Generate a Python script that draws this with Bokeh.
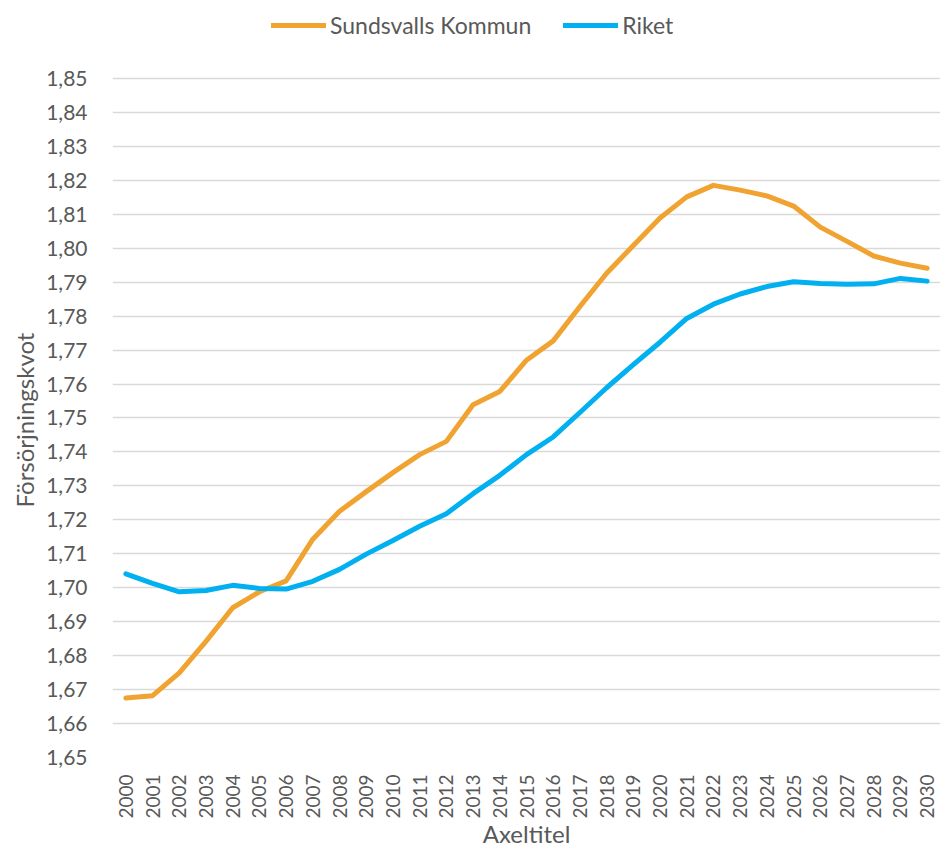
from bokeh.plotting import figure
from bokeh.models import FactorRange, Range1d, FixedTicker, CustomJSTickFormatter, Legend, LegendItem, Title
from bokeh.embed import file_html
from bokeh.resources import INLINE
import math

years = [str(y) for y in range(2000, 2031)]
sundsvall = [1.6675, 1.6682, 1.6749, 1.6842, 1.6941, 1.6988, 1.7020, 1.7143, 1.7225, 1.7283,
             1.7339, 1.7392, 1.7431, 1.7539, 1.7578, 1.7670, 1.7727, 1.7828, 1.7926, 1.8008,
             1.8089, 1.8151, 1.8185, 1.8171, 1.8154, 1.8124, 1.8062, 1.8020, 1.7977, 1.7956, 1.7941]
riket = [1.7041, 1.7013, 1.6988, 1.6992, 1.7007, 1.6998, 1.6996, 1.7019, 1.7054, 1.7099,
         1.7139, 1.7181, 1.7218, 1.7277, 1.7331, 1.7392, 1.7444, 1.7516, 1.7589, 1.7657,
         1.7723, 1.7793, 1.7835, 1.7865, 1.7887, 1.7901, 1.7896, 1.7894, 1.7895, 1.7911, 1.7903]
y_ticks = [round(1.65 + i * 0.01, 2) for i in range(21)]

FONT = "Lato"
GREY = "#595959"

# frame extends above 1.85 to leave room for the legend (no gridline there)
p = figure(frame_width=828, frame_height=747, x_range=FactorRange(*years, range_padding=0),
           y_range=Range1d(1.65, 1.87), output_backend="svg", toolbar_location=None,
           min_border_left=112, min_border_right=0, min_border_top=10, min_border_bottom=0)
p.outline_line_color = None
p.background_fill_color = "white"

r1 = p.line(years, sundsvall, line_color="#F0A330", line_width=5, line_join="round", line_cap="round")
r2 = p.line(years, riket, line_color="#00B0F0", line_width=5, line_join="round", line_cap="round")

p.yaxis.ticker = FixedTicker(ticks=y_ticks)
p.yaxis.formatter = CustomJSTickFormatter(code="return tick.toFixed(2).replace('.', ',');")
p.yaxis.axis_line_color = None
p.yaxis.major_tick_line_color = None
p.yaxis.minor_tick_line_color = None
p.yaxis.major_label_text_font = FONT
p.yaxis.major_label_text_font_size = "21px"
p.yaxis.major_label_text_color = GREY
p.yaxis.major_label_standoff = 19

ytitle = Title(text="Försörjningskvot", align="left", offset=250, standoff=10,
               text_font=FONT, text_font_size="24px", text_font_style="normal",
               text_color=GREY)
p.add_layout(ytitle, "left")

p.xaxis.axis_line_color = None
p.xaxis.major_tick_line_color = None
p.xaxis.minor_tick_line_color = None
p.xaxis.major_label_orientation = math.pi / 2
p.xaxis.major_label_text_font = FONT
p.xaxis.major_label_text_font_size = "19px"
p.xaxis.major_label_text_color = GREY
p.xaxis.major_label_standoff = 11
p.xaxis.axis_label = "Axeltitel"
p.xaxis.axis_label_text_font = FONT
p.xaxis.axis_label_text_font_size = "24px"
p.xaxis.axis_label_text_font_style = "normal"
p.xaxis.axis_label_text_color = GREY
p.xaxis.axis_label_standoff = -3

p.xgrid.grid_line_color = None
p.ygrid.grid_line_color = "#D9D9D9"
p.ygrid.grid_line_width = 1.5

legend = Legend(items=[LegendItem(label="Sundsvalls Kommun", renderers=[r1]),
                       LegendItem(label="Riket", renderers=[r2])],
                orientation="horizontal", location=(159, 718),
                label_text_font=FONT, label_text_font_size="23px", label_text_color=GREY,
                glyph_width=55, glyph_height=24, spacing=32, label_standoff=4,
                border_line_color=None, background_fill_alpha=0, margin=0, padding=0)
p.add_layout(legend, "center")

open("out.html", "w").write(file_html(p, INLINE))
